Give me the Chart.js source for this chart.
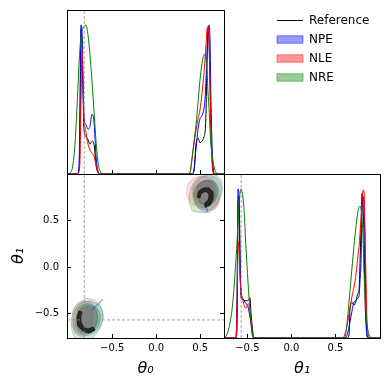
<!DOCTYPE html>
<html>
<head>
<meta charset="utf-8">
<script src="https://cdn.jsdelivr.net/npm/chart.js@4.4.1/dist/chart.umd.min.js"></script>
<style>
  html, body { margin: 0; padding: 0; background: #fff; }
  #wrap { position: relative; width: 390px; height: 390px; overflow: hidden; background: #fff; }
  canvas { position: absolute; }
</style>
</head>
<body>
<div id="wrap">
  <canvas id="margin0" width="232" height="176" style="left:0;top:0"></canvas>
  <canvas id="joint" width="232" height="220" style="left:0;top:170px"></canvas>
  <canvas id="margin1" width="170" height="220" style="left:220px;top:170px"></canvas>
  <canvas id="legend" width="260" height="110" style="left:260px;top:0"></canvas>
</div>
<script>
// axis limits and ticks
const THETA0_LIM = [-1.014, 0.77];
const THETA1_LIM = [-0.765, 1.005];
const DENSITY_MAX = 1.1;
const THETA0_TICKS = [-0.5, 0.0, 0.5];
const THETA1_TICKS = [-0.5, 0.0, 0.5];
const TRUTH = [-0.818, -0.57];

const LEGEND_LABELS = ['Reference', 'NPE', 'NLE', 'NRE'];
const SERIES_RGB = ['0,0,0', '0,0,255', '255,0,0', '0,128,0'];

// marginal of theta0 (normalised density)
const THETA0_GRID = [-1.003, -0.957, -0.923, -0.9, -0.878, -0.866, -0.855, -0.844, -0.832, -0.821,
  -0.798, -0.775, -0.753, -0.73, -0.707, -0.684, -0.662, -0.639, -0.594,
  0.0,
  0.338, 0.384, 0.406, 0.429, 0.452, 0.475, 0.497, 0.52, 0.543, 0.554, 0.565, 0.577, 0.588,
  0.6, 0.611, 0.622, 0.634, 0.656, 0.679, 0.725, 0.77];
const THETA0_REF = [0, 0, 0, 0, 0.02, 0.3, 0.97, 0.9, 0.55, 0.3, 0.25, 0.23, 0.2, 0.22, 0.2, 0.06, 0.01, 0, 0,
  0,
  0, 0, 0, 0.02, 0.2, 0.24, 0.21, 0.22, 0.25, 0.28, 0.4, 0.75, 0.98, 0.9, 0.6, 0.3, 0.12, 0, 0, 0, 0];
const THETA0_NPE = [0, 0, 0, 0, 0.05, 0.5, 1.0, 0.95, 0.6, 0.38, 0.33, 0.3, 0.32, 0.4, 0.35, 0.12, 0.02, 0, 0,
  0,
  0, 0, 0, 0.03, 0.17, 0.3, 0.37, 0.39, 0.44, 0.5, 0.62, 0.8, 0.93, 1.0, 0.9, 0.5, 0.2, 0.01, 0, 0, 0];
const THETA0_NLE = [0, 0, 0, 0, 0.02, 0.1, 0.5, 0.83, 0.65, 0.4, 0.28, 0.2, 0.16, 0.14, 0.12, 0.06, 0.01, 0, 0,
  0,
  0, 0.01, 0.1, 0.2, 0.29, 0.37, 0.43, 0.54, 0.68, 0.77, 0.86, 0.97, 0.99, 0.88, 0.62, 0.3, 0.08, 0, 0, 0, 0];
const THETA0_NRE = [0, 0.03, 0.2, 0.45, 0.73, 0.85, 0.92, 0.96, 0.98, 0.99, 1.0, 0.93, 0.8, 0.62, 0.42, 0.22, 0.08, 0.02, 0,
  0,
  0, 0.01, 0.1, 0.22, 0.33, 0.48, 0.63, 0.74, 0.8, 0.8, 0.77, 0.7, 0.55, 0.44, 0.3, 0.19, 0.13, 0.05, 0.01, 0, 0];

// marginal of theta1
const THETA1_GRID = [-0.765, -0.742, -0.708, -0.674, -0.652, -0.629, -0.618, -0.606, -0.595, -0.583, -0.572,
  -0.561, -0.549, -0.538, -0.515, -0.493, -0.47, -0.459, -0.447, -0.425, -0.402,
  0.0,
  0.551, 0.585, 0.608, 0.631, 0.653, 0.665, 0.687, 0.71, 0.733, 0.755, 0.767, 0.778, 0.789,
  0.801, 0.812, 0.823, 0.835, 0.846, 0.857, 0.869, 0.891, 0.948, 1.005];
const THETA1_REF = [0, 0, 0, 0, 0, 0, 0.05, 0.8, 0.95, 0.6, 0.27, 0.26, 0.26, 0.25, 0.25, 0.25, 0.27, 0.17, 0.09, 0, 0,
  0,
  0, 0, 0, 0, 0.02, 0.2, 0.24, 0.22, 0.25, 0.3, 0.32, 0.5, 0.72, 0.97, 0.88, 0.7, 0.27, 0.1, 0.02, 0, 0, 0, 0];
const THETA1_NPE = [0, 0, 0, 0, 0, 0, 0.25, 1.0, 0.95, 0.45, 0.32, 0.27, 0.26, 0.25, 0.23, 0.21, 0.14, 0.1, 0.03, 0, 0,
  0,
  0, 0, 0, 0.02, 0.07, 0.11, 0.18, 0.24, 0.25, 0.27, 0.28, 0.38, 0.5, 0.85, 0.95, 0.9, 0.6, 0.2, 0.02, 0, 0, 0, 0];
const THETA1_NLE = [0, 0, 0, 0, 0, 0, 0.2, 0.65, 0.58, 0.4, 0.32, 0.28, 0.25, 0.22, 0.2, 0.23, 0.18, 0.1, 0.05, 0, 0,
  0,
  0, 0, 0.03, 0.08, 0.16, 0.2, 0.28, 0.34, 0.43, 0.55, 0.61, 0.7, 0.79, 0.9, 0.99, 0.99, 0.72, 0.4, 0.13, 0.03, 0, 0, 0];
const THETA1_NRE = [0, 0.01, 0.07, 0.19, 0.33, 0.53, 0.63, 0.79, 0.9, 0.97, 1.0, 0.98, 0.94, 0.86, 0.6, 0.38, 0.18, 0.12, 0.06, 0, 0,
  0,
  0, 0, 0.01, 0.1, 0.24, 0.32, 0.47, 0.62, 0.75, 0.85, 0.88, 0.885, 0.87, 0.8, 0.68, 0.45, 0.3, 0.17, 0.09, 0.05, 0.01, 0, 0];

// joint contours, [theta0, theta1] outlines
const NRE_LOW = [[-0.795, -0.334], [-0.693, -0.363], [-0.625, -0.439], [-0.606, -0.549], [-0.663, -0.698], [-0.773, -0.79], [-0.909, -0.78], [-0.966, -0.643], [-0.955, -0.516], [-0.909, -0.407]];
const NRE_LOW_IN = [[-0.909, -0.549], [-0.886, -0.44], [-0.795, -0.396], [-0.693, -0.429], [-0.636, -0.516], [-0.659, -0.636], [-0.75, -0.712], [-0.864, -0.712], [-0.92, -0.647]];
const NRE_HIGH = [[0.409, 0.607], [0.375, 0.706], [0.386, 0.826], [0.432, 0.924], [0.5, 0.978], [0.591, 1.0], [0.682, 0.989], [0.739, 0.935], [0.75, 0.826], [0.716, 0.717], [0.636, 0.629], [0.534, 0.586]];
const NRE_HIGH_IN = [[0.443, 0.684], [0.432, 0.793], [0.477, 0.891], [0.568, 0.935], [0.659, 0.924], [0.705, 0.847], [0.682, 0.738], [0.614, 0.662], [0.523, 0.64]];

const NLE_LOW = [[-0.955, -0.549], [-0.932, -0.44], [-0.852, -0.375], [-0.75, -0.383], [-0.682, -0.461], [-0.67, -0.57], [-0.716, -0.679], [-0.818, -0.734], [-0.909, -0.701], [-0.955, -0.636]];
const NLE_LOW_IN = [[-0.898, -0.549], [-0.875, -0.461], [-0.807, -0.429], [-0.739, -0.451], [-0.716, -0.538], [-0.739, -0.636], [-0.818, -0.679], [-0.886, -0.647]];
const NLE_HIGH = [[0.341, 0.793], [0.364, 0.902], [0.443, 0.967], [0.557, 0.978], [0.648, 0.935], [0.705, 0.826], [0.716, 0.706], [0.67, 0.629], [0.568, 0.618], [0.455, 0.651], [0.375, 0.717]];
const NLE_HIGH_IN = [[0.42, 0.771], [0.443, 0.869], [0.523, 0.924], [0.614, 0.913], [0.659, 0.826], [0.648, 0.717], [0.58, 0.673], [0.489, 0.695]];

const NPE_LOW = [[-0.943, -0.592], [-0.92, -0.461], [-0.841, -0.383], [-0.727, -0.372], [-0.636, -0.429], [-0.602, -0.527], [-0.636, -0.647], [-0.727, -0.723], [-0.864, -0.745], [-0.932, -0.69]];
const NPE_LOW_IN = [[-0.898, -0.57], [-0.875, -0.472], [-0.795, -0.418], [-0.705, -0.44], [-0.67, -0.538], [-0.693, -0.647], [-0.784, -0.701], [-0.875, -0.679]];
const NPE_HIGH = [[0.42, 0.738], [0.42, 0.869], [0.489, 0.956], [0.591, 0.989], [0.693, 0.956], [0.739, 0.869], [0.716, 0.738], [0.659, 0.629], [0.58, 0.586], [0.489, 0.629]];
const NPE_HIGH_IN = [[0.466, 0.782], [0.477, 0.88], [0.557, 0.935], [0.648, 0.913], [0.682, 0.826], [0.659, 0.717], [0.58, 0.673], [0.5, 0.695]];
const NPE_SPIKE_LOW = [[-0.731, -0.462], [-0.606, -0.346]];
const NPE_SPIKE_HIGH = [[0.557, 0.706], [0.58, 0.597]];

// reference crescents: outer edge then inner edge
const REF_LOW = [[-0.878, -0.474], [-0.9, -0.549], [-0.889, -0.635], [-0.832, -0.689], [-0.764, -0.711], [-0.696, -0.679],
  [-0.719, -0.646], [-0.775, -0.668], [-0.821, -0.646], [-0.855, -0.592], [-0.855, -0.528], [-0.844, -0.484]];
const REF_HIGH = [[0.463, 0.757], [0.486, 0.822], [0.543, 0.854], [0.6, 0.854], [0.645, 0.811], [0.645, 0.735], [0.611, 0.67], [0.554, 0.649],
  [0.554, 0.692], [0.588, 0.724], [0.6, 0.778], [0.577, 0.811], [0.543, 0.811], [0.509, 0.789], [0.497, 0.746]];

const FONT = "'DejaVu Sans', sans-serif";
Chart.defaults.font.family = FONT;
Chart.defaults.color = '#000';

function fmt(v) {
  return v.toFixed(1).replace('-', '\u2212');
}

function setTicks(list) {
  return s => { s.ticks = list.map(v => ({ value: v })); };
}

// fixed axis sizes, and no extra label padding pushed onto the chart area
function fixSize(w, h) {
  return s => {
    if (w !== null) s.width = w;
    if (h !== null) s.height = h;
    s.paddingTop = 0;
    s.paddingBottom = 0;
    s.paddingLeft = 0;
    s.paddingRight = 0;
  };
}

const tickGrid = { drawOnChartArea: false, drawTicks: true, tickLength: -4, color: '#000', lineWidth: 1 };

function curve(grid, vals, rgb, order) {
  return {
    data: grid.map((x, i) => ({ x: x, y: vals[i] })),
    borderColor: `rgb(${rgb})`,
    borderWidth: 1,
    pointRadius: 0,
    fill: false,
    cubicInterpolationMode: 'monotone',
    order: order
  };
}

function guide(points) {
  return {
    data: points.map(p => ({ x: p[0], y: p[1] })),
    borderColor: '#8c8c8c',
    borderWidth: 0.8,
    borderDash: [3, 2],
    pointRadius: 0,
    fill: false,
    order: 0
  };
}

function region(pts, rgb, alpha, order, tension) {
  let ring = pts.concat([pts[0]]);
  return {
    data: ring.map(p => ({ x: p[0], y: p[1] })),
    fill: 'shape',
    backgroundColor: `rgba(${rgb},${alpha})`,
    borderColor: `rgba(${rgb},${alpha + 0.12})`,
    borderWidth: 0.8,
    pointRadius: 0,
    tension: tension === undefined ? 0.3 : tension,
    order: order
  };
}

const framePlugin = {
  id: 'frame',
  afterDraw(chart) {
    const { ctx, chartArea: a } = chart;
    ctx.save();
    ctx.strokeStyle = '#000';
    ctx.lineWidth = 1;
    ctx.strokeRect(Math.round(a.left) + 0.5, Math.round(a.top) + 0.5,
      Math.round(a.right - a.left), Math.round(a.bottom - a.top));
    ctx.restore();
  }
};

const baseOptions = {
  responsive: false,
  animation: false,
  events: [],
  plugins: { legend: { display: false }, tooltip: { enabled: false } }
};

// top-left: theta0 marginal
new Chart(document.getElementById('margin0'), {
  type: 'line',
  data: {
    datasets: [
      curve(THETA0_GRID, THETA0_REF, SERIES_RGB[0], 4),
      curve(THETA0_GRID, THETA0_NPE, SERIES_RGB[1], 3),
      curve(THETA0_GRID, THETA0_NLE, SERIES_RGB[2], 2),
      curve(THETA0_GRID, THETA0_NRE, SERIES_RGB[3], 1),
      guide([[TRUTH[0], 0], [TRUTH[0], DENSITY_MAX]])
    ]
  },
  options: {
    ...baseOptions,
    layout: { padding: { left: 67, top: 10, right: 8, bottom: 0 } },
    scales: {
      x: {
        type: 'linear', min: THETA0_LIM[0], max: THETA0_LIM[1], bounds: 'data',
        afterBuildTicks: setTicks(THETA0_TICKS),
        afterFit: fixSize(null, 2),
        ticks: { display: false },
        grid: tickGrid,
        border: { display: false }
      },
      y: { type: 'linear', display: false, min: 0, max: DENSITY_MAX }
    }
  },
  plugins: [framePlugin]
});

// bottom-left: joint
let jointSets = [
  region(NPE_LOW, SERIES_RGB[1], 0.14, 14), region(NPE_HIGH, SERIES_RGB[1], 0.14, 14),
  region(NLE_LOW, SERIES_RGB[2], 0.14, 13), region(NLE_HIGH, SERIES_RGB[2], 0.14, 13),
  region(NRE_LOW, SERIES_RGB[3], 0.17, 12), region(NRE_HIGH, SERIES_RGB[3], 0.17, 12),
  region(NPE_LOW_IN, SERIES_RGB[1], 0.16, 11), region(NPE_HIGH_IN, SERIES_RGB[1], 0.16, 11),
  region(NLE_LOW_IN, SERIES_RGB[2], 0.14, 10), region(NLE_HIGH_IN, SERIES_RGB[2], 0.14, 10),
  region(NRE_LOW_IN, SERIES_RGB[3], 0.26, 9), region(NRE_HIGH_IN, SERIES_RGB[3], 0.26, 9),
  region(REF_LOW, '15,15,15', 0.78, 3, 0.15), region(REF_HIGH, '15,15,15', 0.78, 3, 0.15)
];
[NPE_SPIKE_LOW, NPE_SPIKE_HIGH].forEach(sp => {
  jointSets.push({
    data: sp.map(p => ({ x: p[0], y: p[1] })),
    borderColor: 'rgba(0,0,255,0.35)', borderWidth: 1.5, pointRadius: 0, fill: false, order: 6
  });
});
jointSets.push(guide([[TRUTH[0], THETA1_LIM[0]], [TRUTH[0], THETA1_LIM[1]]]));
jointSets.push(guide([[THETA0_LIM[0], TRUTH[1]], [THETA0_LIM[1], TRUTH[1]]]));

new Chart(document.getElementById('joint'), {
  type: 'line',
  data: { datasets: jointSets },
  options: {
    ...baseOptions,
    layout: { padding: { left: 0, top: 4, right: 8, bottom: 0 } },
    scales: {
      x: {
        type: 'linear', position: 'bottom', min: THETA0_LIM[0], max: THETA0_LIM[1], bounds: 'data',
        afterBuildTicks: setTicks(THETA0_TICKS),
        afterFit: fixSize(null, 52),
        ticks: { callback: fmt, font: { size: 10 }, padding: 8, maxRotation: 0, autoSkip: false },
        grid: tickGrid,
        border: { display: false },
        title: { display: true, text: 'θ₀', font: { size: 16, style: 'italic' }, padding: { top: 0, bottom: 12 } }
      },
      y: {
        type: 'linear', position: 'left', min: THETA1_LIM[0], max: THETA1_LIM[1], bounds: 'data',
        afterBuildTicks: setTicks(THETA1_TICKS),
        afterFit: fixSize(67, null),
        ticks: { callback: fmt, font: { size: 10 }, padding: 12, autoSkip: false },
        grid: tickGrid,
        border: { display: false },
        title: { display: true, text: 'θ₁', font: { size: 16, style: 'italic' }, padding: { top: 9, bottom: 0 } }
      },
      y2: {
        type: 'linear', position: 'right', min: THETA1_LIM[0], max: THETA1_LIM[1], bounds: 'data',
        afterBuildTicks: setTicks(THETA1_TICKS),
        afterFit: fixSize(0, null),
        ticks: { display: false },
        grid: tickGrid,
        border: { display: false }
      }
    }
  },
  plugins: [framePlugin]
});

// bottom-right: theta1 marginal
new Chart(document.getElementById('margin1'), {
  type: 'line',
  data: {
    datasets: [
      curve(THETA1_GRID, THETA1_REF, SERIES_RGB[0], 4),
      curve(THETA1_GRID, THETA1_NPE, SERIES_RGB[1], 3),
      curve(THETA1_GRID, THETA1_NLE, SERIES_RGB[2], 2),
      curve(THETA1_GRID, THETA1_NRE, SERIES_RGB[3], 1),
      guide([[TRUTH[1], 0], [TRUTH[1], DENSITY_MAX]])
    ]
  },
  options: {
    ...baseOptions,
    layout: { padding: { left: 4, top: 4, right: 10, bottom: 0 } },
    scales: {
      x: {
        type: 'linear', min: THETA1_LIM[0], max: THETA1_LIM[1], bounds: 'data',
        afterBuildTicks: setTicks(THETA1_TICKS),
        afterFit: fixSize(null, 52),
        ticks: { callback: fmt, font: { size: 10 }, padding: 8, maxRotation: 0, autoSkip: false },
        grid: tickGrid,
        border: { display: false },
        title: { display: true, text: 'θ₁', font: { size: 16, style: 'italic' }, padding: { top: 0, bottom: 12 } }
      },
      y: { type: 'linear', display: false, min: 0, max: DENSITY_MAX }
    }
  },
  plugins: [framePlugin]
});

// legend
new Chart(document.getElementById('legend'), {
  type: 'line',
  data: { datasets: [] },
  options: {
    ...baseOptions,
    layout: { padding: { left: 10, top: 7.5 } },
    scales: { x: { display: false }, y: { display: false } },
    plugins: {
      tooltip: { enabled: false },
      legend: {
        display: true,
        position: 'left',
        align: 'start',
        labels: {
          usePointStyle: true,
          pointStyleWidth: 26,
          boxHeight: 7.5,
          padding: 7,
          color: '#000',
          font: { size: 12 },
          generateLabels: () => LEGEND_LABELS.map((text, i) => ({
            text: text,
            fillStyle: i === 0 ? '#000' : `rgba(${SERIES_RGB[i]},0.4)`,
            strokeStyle: i === 0 ? '#000' : `rgba(${SERIES_RGB[i]},0.45)`,
            lineWidth: 1,
            pointStyle: i === 0 ? 'line' : 'rect',
            hidden: false,
            fontColor: '#000',
            datasetIndex: i
          }))
        }
      }
    }
  }
});
</script>
</body>
</html>
